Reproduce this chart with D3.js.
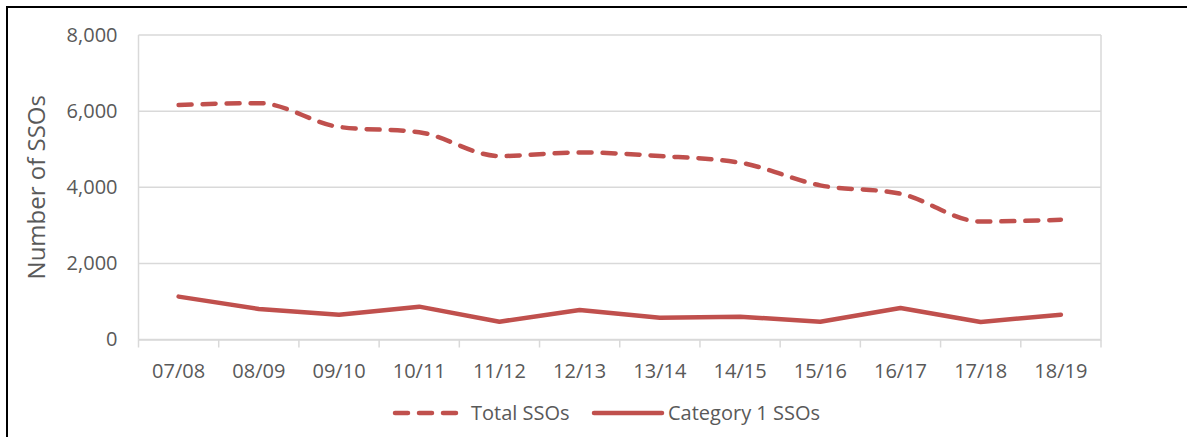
<!DOCTYPE html>
<html>
<head>
<meta charset="utf-8">
<script src="https://cdn.jsdelivr.net/npm/d3@7"></script>
<style>
  body { margin: 0; background: #fff; }
  text { font-family: "Open Sans", "Noto Sans", sans-serif; fill: #595959; }
</style>
</head>
<body>
<svg id="canvas" width="1187" height="437"></svg>
<script>
let years = ['07/08', '08/09', '09/10', '10/11', '11/12', '12/13', '13/14', '14/15', '15/16', '16/17', '17/18', '18/19']
let totalSSOs = [6160, 6210, 5585, 5445, 4820, 4915, 4820, 4645, 4050, 3830, 3100, 3145]
let category1SSOs = [1127, 803, 653, 863, 468, 776, 574, 600, 468, 829, 460, 653]
let yTicks = [0, 2000, 4000, 6000, 8000]

let canvas = d3.select('#canvas')
let red = '#C0504D'
let grid = '#D9D9D9'

let plotLeft = 138.5, plotRight = 1101, plotTop = 35, plotBottom = 339.5

// outer frame
canvas.append('rect')
      .attr('x', 7).attr('y', 7)
      .attr('width', 1300).attr('height', 600)
      .attr('fill', 'none')
      .attr('stroke', '#000')
      .attr('stroke-width', 2)

let xScale = d3.scaleBand()
               .domain(years)
               .range([plotLeft, plotRight])

let yScale = d3.scaleLinear()
               .domain([0, 8000])
               .range([plotBottom, plotTop])

// gridlines
canvas.append('g')
      .selectAll('line')
      .data(yTicks)
      .enter()
      .append('line')
      .attr('x1', plotLeft).attr('x2', plotRight)
      .attr('y1', (d) => yScale(d)).attr('y2', (d) => yScale(d))
      .attr('stroke', grid)
      .attr('stroke-width', 1.5)

// plot border (left/right)
canvas.append('line')
      .attr('x1', plotLeft).attr('x2', plotLeft)
      .attr('y1', plotTop).attr('y2', plotBottom)
      .attr('stroke', grid).attr('stroke-width', 1.5)
canvas.append('line')
      .attr('x1', plotRight).attr('x2', plotRight)
      .attr('y1', plotTop).attr('y2', plotBottom)
      .attr('stroke', grid).attr('stroke-width', 1.5)

// x axis
let xAxis = d3.axisBottom(xScale).tickSizeOuter(0).tickSize(0)
let xg = canvas.append('g')
               .attr('transform', 'translate(0,' + plotBottom + ')')
               .call(xAxis)
xg.select('.domain').attr('stroke', grid).attr('stroke-width', 1.5)
xg.selectAll('text')
  .attr('dy', null)
  .attr('y', 38)
  .style('font-size', '20px')
  .attr('fill', '#595959')

// tick marks at band boundaries
let boundaries = years.map((d) => xScale(d)).concat([plotRight])
canvas.append('g')
      .selectAll('line')
      .data(boundaries)
      .enter()
      .append('line')
      .attr('x1', (d) => d).attr('x2', (d) => d)
      .attr('y1', plotBottom).attr('y2', plotBottom + 8)
      .attr('stroke', grid)
      .attr('stroke-width', 1.5)

// y axis
let yAxis = d3.axisLeft(yScale)
              .tickValues(yTicks)
              .tickSize(0)
              .tickFormat(d3.format(','))
let yg = canvas.append('g')
               .attr('transform', 'translate(' + (plotLeft - 21) + ',0)')
               .call(yAxis)
yg.select('.domain').remove()
yg.selectAll('text')
  .attr('x', 0)
  .style('font-size', '20px')
  .attr('fill', '#595959')

// y axis title
canvas.append('text')
      .attr('transform', 'translate(45,' + ((plotTop + plotBottom) / 2) + ') rotate(-90)')
      .attr('text-anchor', 'middle')
      .style('font-size', '24px')
      .text('Number of SSOs')

let xc = (i) => xScale(years[i]) + xScale.bandwidth() / 2

let totalLine = d3.line()
                  .x((d, i) => xc(i))
                  .y((d) => yScale(d))
                  .curve(d3.curveMonotoneX)

let catLine = d3.line()
                .x((d, i) => xc(i))
                .y((d) => yScale(d))

canvas.append('path')
      .attr('d', totalLine(totalSSOs))
      .attr('fill', 'none')
      .attr('stroke', red)
      .attr('stroke-width', 4.5)
      .attr('stroke-dasharray', '13,11')
      .attr('stroke-linecap', 'round')

canvas.append('path')
      .attr('d', catLine(category1SSOs))
      .attr('fill', 'none')
      .attr('stroke', red)
      .attr('stroke-width', 4.5)
      .attr('stroke-linecap', 'round')
      .attr('stroke-linejoin', 'round')

// legend
let legendY = 413
canvas.append('line')
      .attr('x1', 395).attr('x2', 457)
      .attr('y1', legendY).attr('y2', legendY)
      .attr('stroke', red).attr('stroke-width', 4.5)
      .attr('stroke-dasharray', '13,11')
      .attr('stroke-linecap', 'round')
canvas.append('text')
      .attr('x', 471).attr('y', legendY)
      .attr('dy', '0.35em')
      .style('font-size', '20px')
      .text('Total SSOs')

canvas.append('line')
      .attr('x1', 594).attr('x2', 662)
      .attr('y1', legendY).attr('y2', legendY)
      .attr('stroke', red).attr('stroke-width', 4.5)
      .attr('stroke-linecap', 'round')
canvas.append('text')
      .attr('x', 668).attr('y', legendY)
      .attr('dy', '0.35em')
      .style('font-size', '20px')
      .text('Category 1 SSOs')
</script>
</body>
</html>
